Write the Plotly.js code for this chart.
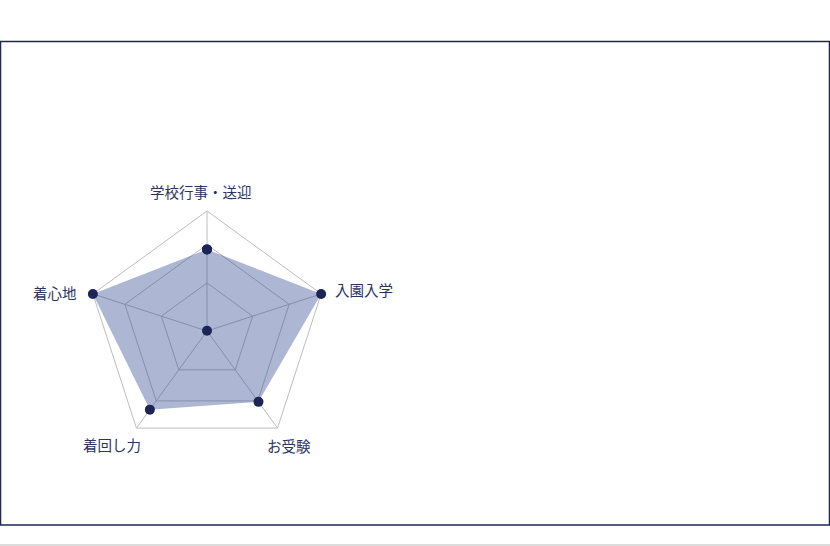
<!DOCTYPE html>
<html>
<head>
<meta charset="utf-8">
<script src="https://cdn.plot.ly/plotly-3.0.1.min.js"></script>
<style>
  html, body { margin: 0; padding: 0; background: #fff; }
  #chart { width: 830px; height: 546px; }
</style>
</head>
<body>
<div id="chart"></div>
<script>
// categories, clockwise from the top
var categories = ['学校行事・送迎', '入園入学', 'お受験', '着回し力', '着心地'];
var scores = [6.8, 10, 7.3, 8.1, 10];
// the lone dot in the middle (a hair above 0, plotly hides points exactly on the origin)
var centerScore = [0.02];
var gridValues = [4, 7.2, 10];

var navy = '#1c2556';
var labelColor = '#2b3461';
var gridColor = '#bdbdbd';

// where each category label sits (pixels in the 830x546 picture)
var labelPos = [[201, 191], [364, 289], [289, 445], [112, 444], [55, 292]];

// close the polygon
var r = scores.concat([scores[0]]);
var theta = categories.concat([categories[0]]);

var traces = [{
    type: 'scatterpolar',
    r: r,
    theta: theta,
    mode: 'lines+markers',
    fill: 'toself',
    fillcolor: 'rgba(50,75,145,0.40)',
    line: { color: navy, width: 0 },
    marker: { color: navy, size: 10 },
    hoverinfo: 'skip'
}, {
    type: 'scatterpolar',
    r: centerScore,
    theta: [categories[0]],
    mode: 'markers',
    marker: { color: navy, size: 10 },
    hoverinfo: 'skip'
}];

var annotations = categories.map(function (c, i) {
    return {
        text: c, xref: 'paper', yref: 'paper',
        x: labelPos[i][0] / 830, y: 1 - labelPos[i][1] / 546,
        xanchor: 'center', yanchor: 'middle',
        showarrow: false,
        font: { size: 14.5, color: labelColor }
    };
});

var layout = {
    width: 830,
    height: 546,
    margin: { l: 0, r: 0, t: 0, b: 0 },
    paper_bgcolor: '#fff',
    showlegend: false,
    font: { family: '"Noto Sans CJK JP", "Noto Sans", sans-serif', size: 14, color: labelColor },
    polar: {
        domain: { x: [87 / 830, 327 / 830], y: [1 - 451 / 546, 1 - 211 / 546] },
        bgcolor: 'rgba(0,0,0,0)',
        gridshape: 'linear',
        radialaxis: {
            range: [0, 10],
            tickvals: gridValues,
            showticklabels: false,
            ticks: '',
            showline: false,
            gridcolor: gridColor,
            gridwidth: 1,
            layer: 'below traces'
        },
        angularaxis: {
            rotation: 90,
            direction: 'clockwise',
            categoryorder: 'array',
            categoryarray: categories,
            ticks: '',
            showticklabels: false,
            gridcolor: gridColor,
            linecolor: gridColor,
            linewidth: 1,
            layer: 'below traces'
        }
    },
    annotations: annotations,
    shapes: [{
        type: 'rect', xref: 'paper', yref: 'paper',
        x0: 0.6 / 830, x1: 829.4 / 830,
        y0: 1 - 525 / 546, y1: 1 - 41.5 / 546,
        line: { color: '#1f2657', width: 1.3 }
    }, {
        type: 'line', xref: 'paper', yref: 'paper',
        x0: 0, x1: 1,
        y0: 1 - 545 / 546, y1: 1 - 545 / 546,
        line: { color: '#dcdcdc', width: 2 }
    }]
};

Plotly.newPlot('chart', traces, layout, { displayModeBar: false, staticPlot: true });
</script>
</body>
</html>
